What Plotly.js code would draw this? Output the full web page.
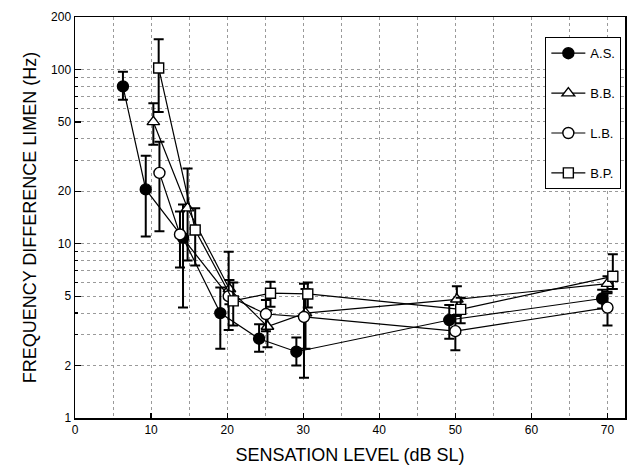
<!DOCTYPE html>
<html>
<head>
<meta charset="utf-8">
<script src="https://cdn.plot.ly/plotly-3.0.1.min.js"></script>
<style>html,body{margin:0;padding:0;background:#fff;}#chart{width:632px;height:471px;}</style>
</head>
<body>
<div id="chart"></div>
<script>
// Series names
const seriesNames = ["A.S.", "B.B.", "L.B.", "B.P."];

// A.S.
const asX = [6.3, 9.3, 14.2, 19.1, 24.2, 29.1, 49.2, 69.3];
const asY = [80, 20.5, 10.8, 4.0, 2.85, 2.4, 3.65, 4.85];
const asErrPlus = [17, 11.5, 6, 1.6, 0.6, 0.5, 0.8, 0.6];
const asErrMinus = [13, 9.5, 6.5, 1.5, 0.45, 0.4, 0.8, 0.6];

// B.B.
const bbX = [10.3, 14.8, 20.3, 25.3, 30.3, 50.2, 70.0];
const bbY = [50, 16, 5.5, 3.35, 4.0, 4.8, 5.9];
const bbErrPlus = [14, 11, 0.7, 0.8, 1.5, 0.9, 0.6];
const bbErrMinus = [13, 8, 1.0, 0.8, 1.5, 0.9, 0.6];

// L.B.
const lbX = [11.1, 13.8, 20.2, 25.1, 30.1, 50.0, 70.0];
const lbY = [25.5, 11.3, 5.0, 3.95, 3.8, 3.15, 4.3];
const lbErrPlus = [13, 4, 4, 0.8, 2.1, 0.7, 0.9];
const lbErrMinus = [13.7, 4, 1.8, 0.8, 2.1, 0.7, 0.9];

// B.P.
const bpX = [11.0, 15.8, 20.8, 25.7, 30.6, 50.7, 70.7];
const bpY = [102, 12.0, 4.7, 5.2, 5.15, 4.2, 6.5];
const bpErrPlus = [47, 4, 1.3, 0.85, 0.85, 0.7, 2.2];
const bpErrMinus = [45, 4.5, 1.3, 0.85, 0.85, 0.7, 1.0];

// Tick labels
const xTickVals = [0, 10, 20, 30, 40, 50, 60, 70];
const yTickVals = [1, 2, 5, 10, 20, 50, 100, 200];
const yMinorVals = [3, 4, 6, 7, 8, 9, 30, 40, 60, 70, 80, 90];

const FONT = "Liberation Sans, Arial, Helvetica, sans-serif";
const GRID = "#9a9a9a";

function mk(name, x, y, ep, em, symbol, fill, group) {
  return {
    type: "scatter", mode: "lines+markers", name: name,
    x: x, y: y, legendgroup: group,
    line: {color: "#000", width: 1.2},
    marker: {symbol: symbol, size: symbol.indexOf("square") === 0 ? 10 : 11,
             color: fill, line: {color: "#000", width: 1.4}},
    error_y: {type: "data", symmetric: false, array: ep, arrayminus: em,
              color: "#000", thickness: 2, width: 5},
    cliponaxis: false
  };
}

const traces = [
  mk(seriesNames[0], asX, asY, asErrPlus, asErrMinus, "circle", "#000", "a"),
  mk(seriesNames[1], bbX, bbY, bbErrPlus, bbErrMinus, "triangle-up", "#fff", "b"),
  mk(seriesNames[2], lbX, lbY, lbErrPlus, lbErrMinus, "circle", "#fff", "c"),
  mk(seriesNames[3], bpX, bpY, bpErrPlus, bpErrMinus, "square", "#fff", "d")
];

const layout = {
  width: 632, height: 471,
  margin: {l: 75, r: 7, t: 17, b: 53},
  paper_bgcolor: "#fff", plot_bgcolor: "#fff",
  font: {family: FONT, color: "#000", size: 12},
  showlegend: true,
  legend: {
    x: 0.993, xanchor: "right", y: 0.95, yanchor: "top",
    bgcolor: "#fff", bordercolor: "#000", borderwidth: 1.2,
    font: {family: FONT, size: 13, color: "#000"},
    tracegroupgap: 20, itemwidth: 34
  },
  xaxis: {
    range: [0, 72.3],
    tickvals: xTickVals, ticktext: xTickVals.map(String),
    ticks: "inside", ticklen: 5, tickwidth: 1.2, tickcolor: "#000",
    showline: true, linecolor: "#000", linewidth: 1.5, mirror: true,
    showgrid: true, gridcolor: GRID, gridwidth: 1, griddash: "dot",
    minor: {dtick: 5, tick0: 0, showgrid: true, gridcolor: GRID, gridwidth: 1, griddash: "dot", ticks: ""},
    zeroline: false,
    tickfont: {family: FONT, size: 12},
    title: {text: "SENSATION LEVEL (dB SL)", font: {family: FONT, size: 18}, standoff: 12}
  },
  yaxis: {
    type: "log", range: [0, Math.log10(200)],
    tickvals: yTickVals, ticktext: yTickVals.map(String),
    ticks: "inside", ticklen: 6, tickwidth: 1.2, tickcolor: "#000",
    showline: true, linecolor: "#000", linewidth: 1.5, mirror: true,
    showgrid: true, gridcolor: GRID, gridwidth: 1, griddash: "dot",
    minor: {tickmode: "array", tickvals: yMinorVals, showgrid: true, gridcolor: GRID, gridwidth: 1, griddash: "dot", ticks: "inside", ticklen: 3, tickcolor: "#000"},
    zeroline: false,
    tickfont: {family: FONT, size: 12},
    title: {text: "FREQUENCY DIFFERENCE LIMEN (Hz)", font: {family: FONT, size: 18}, standoff: 10}
  }
};

Plotly.newPlot("chart", traces, layout, {displayModeBar: false, staticPlot: true});
</script>
</body>
</html>
